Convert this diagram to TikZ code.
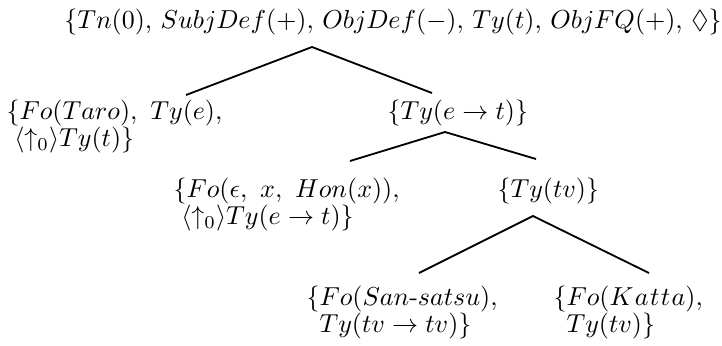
\documentclass[tikz,border=0pt]{standalone}
\usepackage{amssymb}
\begin{document}
\begin{tikzpicture}[x=0.385pt,y=-0.385pt,
  txt/.style={inner sep=0pt, anchor=base west, font=\fontsize{10}{10.4}\selectfont},
  branch/.style={line width=0.7pt}]
\useasboundingbox (0,0) rectangle (722,345);
\node[txt, anchor=base] (root) at (393,28) {$\{Tn(0),\,SubjDef(+),\,ObjDef(-),\,Ty(t),\,ObjFQ(+),\,\Diamond\}$};
\node[txt] (taro) at (6,119) {$\begin{array}[t]{@{}l@{}}\{Fo(Taro),\ Ty(e),\\ \hspace{3pt}\langle\uparrow_0\rangle Ty(t)\}\end{array}$};
\node[txt] (et) at (387,119) {$\{Ty(e\rightarrow t)\}$};
\node[txt] (eps) at (173,197) {$\begin{array}[t]{@{}l@{}}\{Fo(\epsilon,\ x,\ Hon(x)),\\ \hspace{3pt}\langle\uparrow_0\rangle Ty(e\rightarrow t)\}\end{array}$};
\node[txt] (tv) at (497,197) {$\{Ty(tv)\}$};
\node[txt] (san) at (306,305) {$\begin{array}[t]{@{}l@{}}\{Fo(San\mbox{-}satsu),\\ \hspace{5pt}Ty(tv\rightarrow tv)\}\end{array}$};
\node[txt] (katta) at (553,305) {$\begin{array}[t]{@{}l@{}}\{Fo(K\mkern1mu a\mkern1mu t\mkern1mu t\mkern1mu a),\\ \hspace{5pt}Ty(tv)\}\end{array}$};
\coordinate (a1) at (312,47);
\coordinate (l1) at (186,95);
\coordinate (r1) at (432,93);
\coordinate (a2) at (445,132);
\coordinate (l2) at (350,161);
\coordinate (r2) at (536,159);
\coordinate (a3) at (533,216);
\coordinate (l3) at (419,273);
\coordinate (r3) at (649,273);
\draw[branch] (l1) -- (a1) -- (r1);
\draw[branch] (l2) -- (a2) -- (r2);
\draw[branch] (l3) -- (a3) -- (r3);
\end{tikzpicture}
\end{document}
